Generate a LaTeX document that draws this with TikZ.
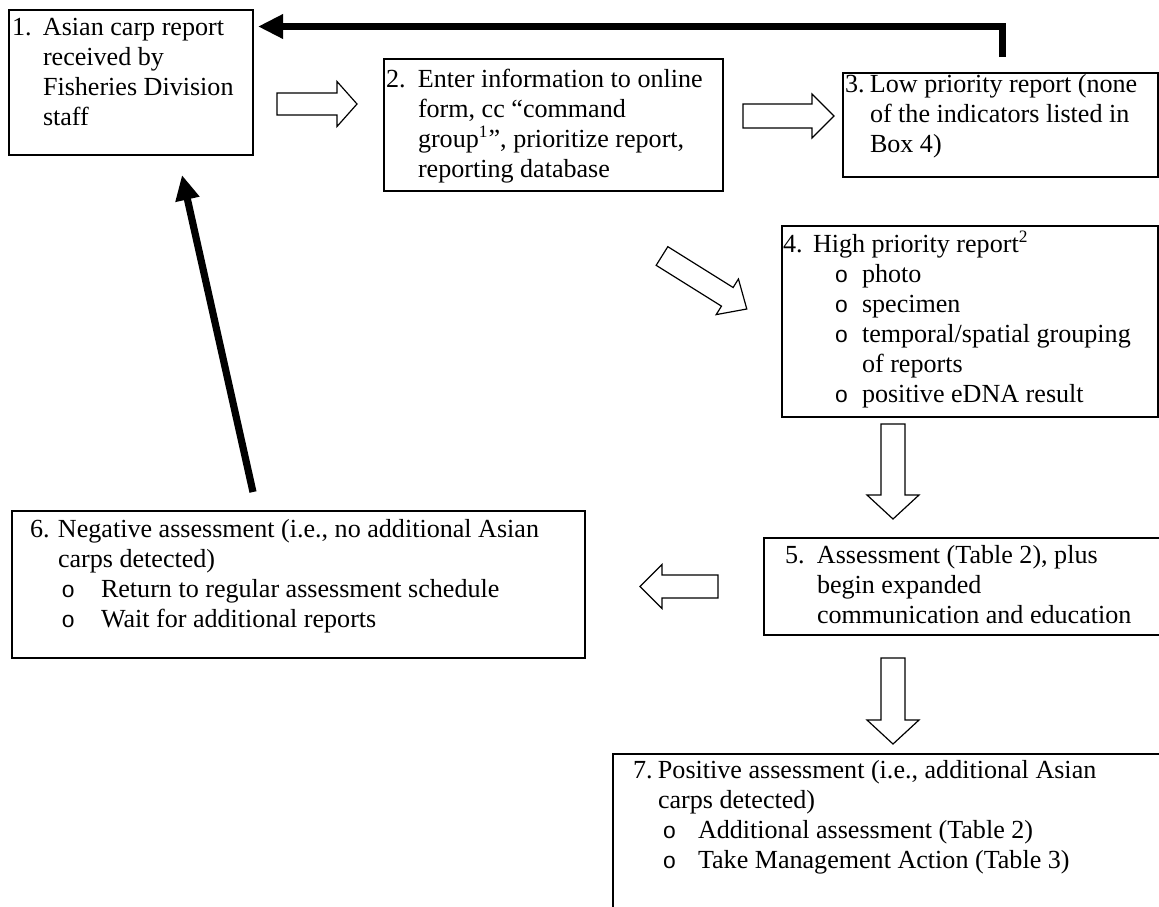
\documentclass[tikz,border=0pt]{standalone}
\usepackage{fontspec}
\setmainfont{Liberation Serif}
\newfontfamily\bulletfont{Liberation Sans}
\usetikzlibrary{arrows.meta,calc}
\newlength{\pxu}\setlength{\pxu}{0.46pt}
\newcommand{\tline}[2]{\hspace*{#1\pxu}\mbox{#2}}
\newcommand{\nline}[4]{\hspace*{#1\pxu}\makebox[\dimexpr #2\pxu-#1\pxu\relax][l]{#3}\mbox{#4}}
\newcommand{\bline}[3]{\hspace*{#1\pxu}\makebox[\dimexpr #2\pxu-#1\pxu\relax][l]{\bulletfont\fontsize{10.5pt}{13.8pt}\selectfont o}\mbox{#3}}
\newcommand{\bxtext}[4]{\parbox[t][#2\pxu][t]{#1\pxu}{\fontsize{12pt}{13.8pt}\selectfont\noindent\rule{0pt}{#3\pxu}#4}}
\newcommand{\harrow}[6]{\begin{scope}[shift={#1},rotate=#2]
\draw[hollow] (0,-#4) -- (#3-#6,-#4) -- (#3-#6,-#5) -- (#3,0) -- (#3-#6,#5) -- (#3-#6,#4) -- (0,#4) -- cycle;
\end{scope}}
\begin{document}
\begin{tikzpicture}[x=0.46pt,y=-0.46pt,
  box/.style={draw, line width=0.6pt, inner sep=0pt, outer sep=0pt, anchor=north west, fill=white},
  hollow/.style={draw, fill=white, line width=0.55pt, line join=miter},
  bigarrow/.style={line width=3.3pt, -{Triangle[length=11.5pt,width=10.6pt]}}]
\useasboundingbox (0,0) rectangle (1159,907);
\clip (0,0) rectangle (1159,907);

\node[box] (b1) at (9,10) {\bxtext{244}{145}{25}{%
 \nline{3}{34}{1.}{Asian carp report}\\
 \tline{34}{received by}\\
 \tline{34}{Fisheries Division}\\
 \tline{34}{staff}}};

\node[box] (b2) at (384,59) {\bxtext{339}{132}{28}{%
 \nline{2}{34}{2.}{Enter information to online}\\
 \tline{34}{form, cc “command}\\
 \tline{34}{group\textsuperscript{1}”, prioritize report,}\\
 \tline{34}{reporting database}}};

\node[box] (b3) at (843,73) {\bxtext{315}{104}{19}{%
 \nline{2}{27}{3.}{Low priority report (none}\\
 \tline{27}{of the indicators listed in}\\
 \tline{27}{Box 4)}}};

\node[box] (b4) at (782,226) {\bxtext{376}{191}{26}{%
 \nline{1}{31}{4.}{High priority report\textsuperscript{2}}\\
 \bline{53}{80}{photo}\\
 \bline{53}{80}{specimen}\\
 \bline{53}{80}{temporal/spatial grouping}\\
 \tline{80}{of reports}\\
 \bline{53}{80}{positive eDNA result}}};

\node[box] (b5) at (764,538) {\bxtext{420}{97}{25}{%
 \nline{21}{53}{5.}{Assessment (Table 2), plus}\\
 \tline{53}{begin expanded}\\
 \tline{53}{communication and education}}};

\node[box] (b6) at (12,511) {\bxtext{573}{147}{26}{%
 \nline{18}{46}{6.}{Negative assessment (i.e., no additional Asian}\\
 \tline{46}{carps detected)}\\
 \bline{50}{89}{Return to regular assessment schedule}\\
 \bline{50}{89}{Wait for additional reports}}};

\node[box] (b7) at (613,754) {\bxtext{600}{200}{24}{%
 \nline{20}{45}{7.}{Positive assessment (i.e., additional Asian}\\
 \tline{45}{carps detected)}\\
 \bline{50}{85}{Additional assessment (Table 2)}\\
 \bline{50}{85}{Take Management Action (Table 3)}}};

% hollow block arrows
\harrow{($(b1.north east)+(24,94)$)}{0}{80}{11}{22.5}{20}
\harrow{($(b2.north east)+(20,57)$)}{0}{91}{12}{22}{22}
\harrow{($(b2.south)+(108.5,65)$)}{-32}{100}{11}{21}{23}
\harrow{($(b4.south west)+(111,7)$)}{-90}{95}{12}{26}{24}
\harrow{($(b5.west)+(-46,0)$)}{180}{78}{11.5}{22}{22}
\harrow{($(b5.south west)+(129,23)$)}{-90}{86}{12}{26}{24}

% thick black return arrows
\draw[bigarrow] ($(b3.north)+(2,-16)$) |- ($(b1.north east)+(5,16.5)$);
\draw[bigarrow] ($(b6.north west)+(241,-19)$) -- ($(b1.south west)+(173,20)$);
\end{tikzpicture}
\end{document}
